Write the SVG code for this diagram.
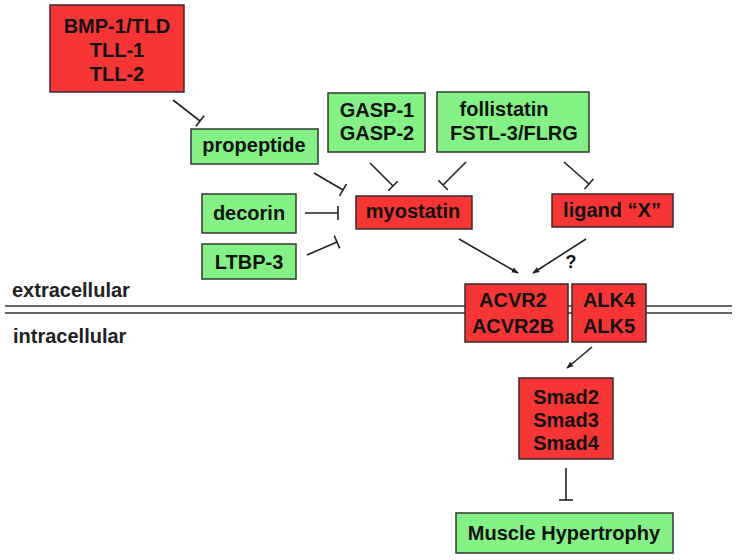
<svg xmlns="http://www.w3.org/2000/svg" width="737" height="560" viewBox="0 0 737 560">
<style>
.r{fill:#f83535;stroke:#3a2a2a;stroke-width:1.5}
.g{fill:#84f184;stroke:#2f3a2f;stroke-width:1.5}
text{font-family:"Liberation Sans",Arial,sans-serif;font-weight:bold;font-size:20px;fill:#111;text-anchor:middle}
.lbl{text-anchor:start;fill:#222}
.c{stroke:#222;stroke-width:1.6;fill:none}
.mem{stroke:#666;stroke-width:2.2}
</style>
<defs>
<marker id="arr" viewBox="0 0 10 10" refX="9" refY="5" markerWidth="7" markerHeight="7" orient="auto" markerUnits="userSpaceOnUse">
<path d="M0,1 L10,5 L0,9 Z" fill="#222"/>
</marker>
<marker id="bar" viewBox="0 0 4 14" refX="2" refY="7" markerWidth="4" markerHeight="14" orient="auto" markerUnits="userSpaceOnUse">
<line x1="2" y1="0" x2="2" y2="14" stroke="#222" stroke-width="1.6"/>
</marker>
</defs>
<g id="membrane">
<line class="mem" x1="5" y1="306" x2="732" y2="306"/>
<line class="mem" x1="5" y1="313" x2="732" y2="313"/>
<text class="lbl" x="12" y="297">extracellular</text>
<text class="lbl" x="13" y="343">intracellular</text>
</g>
<g id="connectors">
<line class="c" x1="173" y1="100" x2="200" y2="121" marker-end="url(#bar)"/>
<line class="c" x1="314" y1="173" x2="343" y2="190" marker-end="url(#bar)"/>
<line class="c" x1="305" y1="213" x2="338" y2="213" marker-end="url(#bar)"/>
<line class="c" x1="307" y1="255" x2="337" y2="242" marker-end="url(#bar)"/>
<line class="c" x1="370" y1="163" x2="393" y2="186" marker-end="url(#bar)"/>
<line class="c" x1="466" y1="162" x2="443" y2="185" marker-end="url(#bar)"/>
<line class="c" x1="564" y1="162" x2="589" y2="184" marker-end="url(#bar)"/>
<line class="c" x1="459" y1="239" x2="518" y2="273" marker-end="url(#arr)"/>
<line class="c" x1="586" y1="239" x2="533" y2="273" marker-end="url(#arr)"/>
<line class="c" x1="592" y1="347" x2="567" y2="368" marker-end="url(#arr)"/>
<line class="c" x1="566" y1="468" x2="566" y2="500" marker-end="url(#bar)"/>
<text x="571" y="268" style="font-size:18px">?</text>
</g>
<g id="bmp">
<rect class="r" x="50" y="5" width="134" height="87"/>
<text x="117" y="33">BMP-1/TLD</text>
<text x="117" y="57">TLL-1</text>
<text x="117" y="81">TLL-2</text>
</g>
<g id="propeptide">
<rect class="g" x="191" y="129" width="127" height="35"/>
<text x="254" y="152">propeptide</text>
</g>
<g id="gasp">
<rect class="g" x="328" y="93" width="97" height="59"/>
<text x="377" y="117">GASP-1</text>
<text x="377" y="140">GASP-2</text>
</g>
<g id="follistatin">
<rect class="g" x="437" y="92" width="152" height="60"/>
<text x="504" y="116">follistatin</text>
<text x="514" y="140">FSTL-3/FLRG</text>
</g>
<g id="decorin">
<rect class="g" x="202" y="194" width="94" height="39"/>
<text x="249" y="220">decorin</text>
</g>
<g id="ltbp3">
<rect class="g" x="202" y="244" width="94" height="35"/>
<text x="249" y="269">LTBP-3</text>
</g>
<g id="myostatin">
<rect class="r" x="356" y="196" width="116" height="33"/>
<text x="413" y="218">myostatin</text>
</g>
<g id="ligandX">
<rect class="r" x="552" y="194" width="121" height="33"/>
<text x="612" y="217">ligand “X”</text>
</g>
<g id="acvr2">
<rect class="r" x="465" y="284" width="103" height="58"/>
<text x="513" y="307">ACVR2</text>
<text x="513" y="333">ACVR2B</text>
</g>
<g id="alk">
<rect class="r" x="572" y="284" width="74" height="58"/>
<text x="609" y="307">ALK4</text>
<text x="609" y="333">ALK5</text>
</g>
<g id="smad">
<rect class="r" x="519" y="378" width="94" height="81"/>
<text x="566" y="404">Smad2</text>
<text x="566" y="427">Smad3</text>
<text x="566" y="450">Smad4</text>
</g>
<g id="hypertrophy">
<rect class="g" x="456" y="513" width="217" height="40"/>
<text x="564" y="540">Muscle Hypertrophy</text>
</g>
</svg>
